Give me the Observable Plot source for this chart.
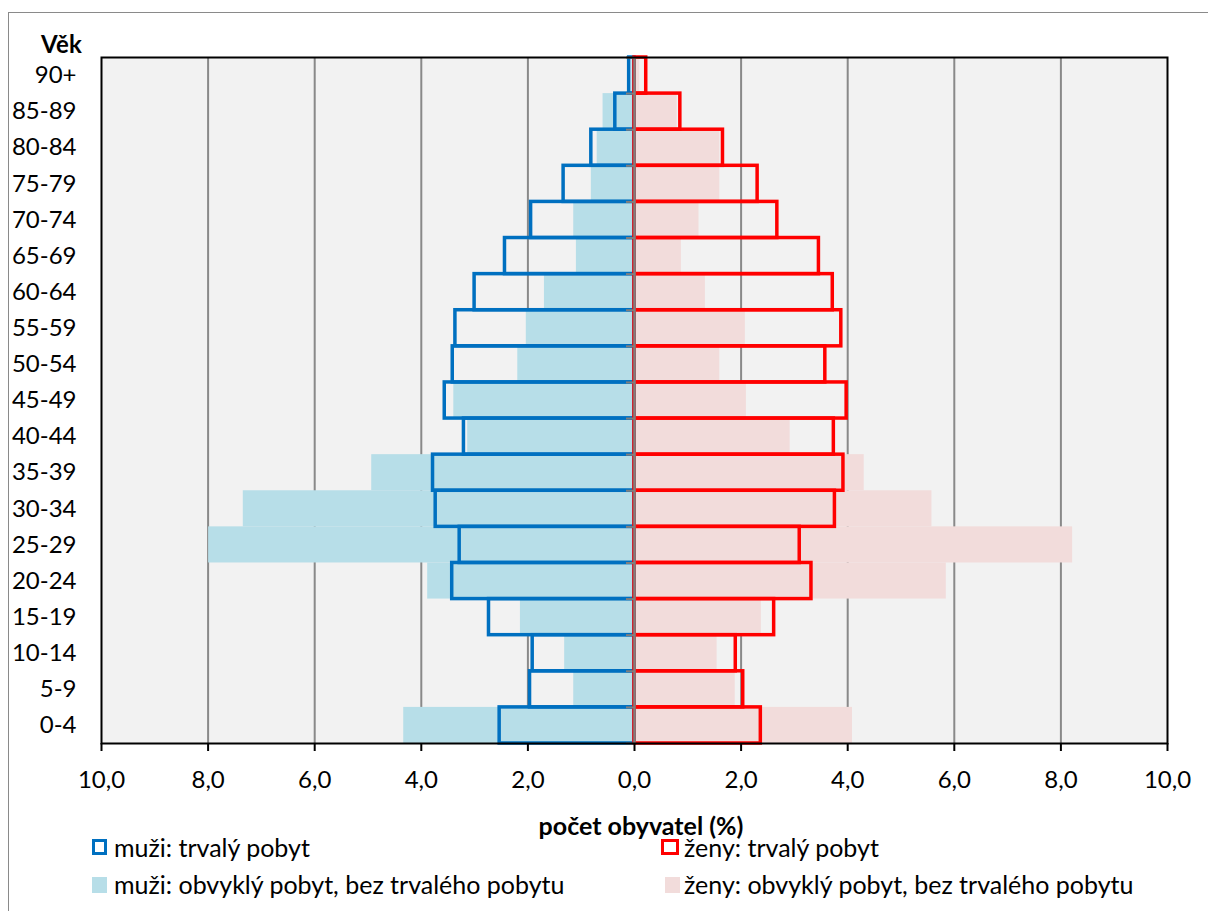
<!DOCTYPE html>
<html>
<head>
<meta charset="utf-8">
<script src="https://cdn.jsdelivr.net/npm/d3@7"></script>
<script src="https://cdn.jsdelivr.net/npm/@observablehq/plot@0.6"></script>
<style>
  html, body { margin: 0; padding: 0; background: #fff; }
  body { width: 1208px; height: 911px; position: relative; overflow: hidden; font-family: Lato, "Open Sans", sans-serif; color: #000; }
  #border { position: absolute; left: 8px; top: 12px; width: 1300px; height: 1000px; border-left: 1.5px solid #8a8a8a; border-top: 1.5px solid #8a8a8a; }
  #chart { position: absolute; left: 0; top: 0; }
  .t { position: absolute; font-size: 25px; white-space: nowrap; line-height: 1; }
  .sw { position: absolute; box-sizing: border-box; }
</style>
</head>
<body>
<div id="border"></div>
<div id="chart"></div>
<div class="t" style="left:41px; top:32px; font-weight:bold; font-size:24px;">Věk</div>
<div class="t" id="xlabel" style="left:641px; top:813px; font-weight:bold; transform:translateX(-50%);">počet obyvatel (%)</div>
<div class="sw" style="left:92px; top:839px; width:15px; height:16px; border:3px solid #0070c0;"></div>
<div class="t" style="left:114px; top:835px;">muži: trvalý pobyt</div>
<div class="sw" style="left:661px; top:839px; width:18px; height:16px; border:3px solid #ff0000;"></div>
<div class="t" style="left:684px; top:835px;">ženy: trvalý pobyt</div>
<div class="sw" style="left:92px; top:877px; width:15px; height:16px; background:#b7dee8;"></div>
<div class="t" style="left:114px; top:872px;">muži: obvyklý pobyt, bez trvalého pobytu</div>
<div class="sw" style="left:665px; top:877px; width:15px; height:16px; background:#f2dcdb;"></div>
<div class="t" style="left:684px; top:872px;">ženy: obvyklý pobyt, bez trvalého pobytu</div>
<script>
const ages = ["0-4","5-9","10-14","15-19","20-24","25-29","30-34","35-39","40-44","45-49","50-54","55-59","60-64","65-69","70-74","75-79","80-84","85-89","90+"];
const muziTrvaly  = [2.53,1.96,1.91,2.73,3.42,3.28,3.73,3.78,3.20,3.56,3.41,3.36,3.00,2.43,1.94,1.33,0.81,0.36,0.10];
const muziObvykly = [4.33,1.14,1.31,2.14,3.88,7.99,7.34,4.93,3.13,3.39,2.19,2.03,1.69,1.09,1.14,0.81,0.70,0.59,0.05];
const zenyTrvaly  = [2.37,2.04,1.90,2.62,3.32,3.10,3.76,3.92,3.74,3.98,3.58,3.88,3.72,3.46,2.68,2.31,1.66,0.86,0.22];
const zenyObvykly = [4.09,1.89,1.55,2.38,5.85,8.22,5.58,4.31,2.92,2.10,1.60,2.08,1.33,0.88,1.21,1.60,1.60,0.80,0.10];
const xTicks = [-10,-8,-6,-4,-2,0,2,4,6,8,10];

const rows = ages.map((age, i) => ({i, age, mT: muziTrvaly[i], mO: muziObvykly[i], zT: zenyTrvaly[i], zO: zenyObvykly[i]}));
const fmt = d => Math.abs(d).toFixed(1).replace(".", ",");

const chart = Plot.plot({
  width: 1208,
  height: 800,
  marginLeft: 101,
  marginRight: 41,
  marginTop: 57,
  marginBottom: 57,
  style: {fontFamily: "Lato, 'Open Sans', sans-serif", fontSize: "24px", color: "#000", background: "transparent", overflow: "visible"},
  x: {domain: [-10, 10]},
  y: {domain: [0, ages.length]},
  marks: [
    Plot.frame({fill: "#f2f2f2"}),
    Plot.ruleX(xTicks.filter(d => d !== 0 && Math.abs(d) !== 10), {stroke: "#898989", strokeWidth: 2}),
    Plot.rect(rows, {x1: 0, x2: d => -d.mO, y1: "i", y2: d => d.i + 1, fill: "#b7dee8"}),
    Plot.rect(rows, {x1: 0, x2: "zO", y1: "i", y2: d => d.i + 1, fill: "#f2dcdb"}),
    Plot.rect(rows, {x1: 0, x2: d => -d.mT, y1: "i", y2: d => d.i + 1, fill: "none", stroke: "#0070c0", strokeWidth: 3.5}),
    Plot.rect(rows, {x1: 0, x2: "zT", y1: "i", y2: d => d.i + 1, fill: "none", stroke: "#ff0000", strokeWidth: 3.5}),
    Plot.ruleX([0], {stroke: "#7f7f7f", strokeWidth: 2.5}),
    Plot.ruleY(d3.range(ages.length + 1), {x1: -0.15, x2: 0, stroke: "#7f7f7f", strokeWidth: 2}),
    Plot.frame({stroke: "#000", strokeWidth: 2}),
    Plot.axisX(xTicks, {tickFormat: fmt, tickSize: 8, tickPadding: 19, stroke: "#000", strokeWidth: 2, label: null, fill: "#000"}),
    Plot.axisY(ages.map((a, i) => i + 0.5), {tickFormat: d => ages[Math.floor(d)], tickSize: 0, tickPadding: 25, label: null, fill: "#000"})
  ]
});
document.getElementById("chart").appendChild(chart);
</script>
</body>
</html>
